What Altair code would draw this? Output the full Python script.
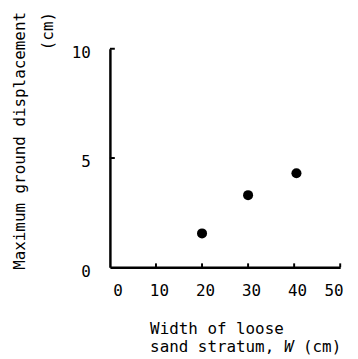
import altair as alt
import pandas as pd

width_cm = [20, 30, 40.5]
displacement_cm = [1.55, 3.3, 4.3]
x_ticks = [0, 10, 20, 30, 40, 50]
y_ticks = [0, 5, 10]
x_title_line1 = "Width of loose"
x_title_line2_pre = "sand stratum,"
x_title_var = "W"
x_title_line2_post = "(cm)"
y_title = ["Maximum ground displacement", "(cm)"]

FONT = "DejaVu Sans Mono"
FS = 16.2
CW = FS * 0.602  # monospace advance
W, H = 235, 223

pts = pd.DataFrame({"w": width_cm, "d": displacement_cm})
xt = pd.DataFrame({"w": [t for t in x_ticks if t > 0]})
yt = pd.DataFrame({"d": [t for t in y_ticks if t > 0]})

xscale = alt.Scale(domain=[0, 50], nice=False, zero=False)
yscale = alt.Scale(domain=[0, 10], nice=False, zero=False)

x_axis = alt.Axis(values=x_ticks, title=None, ticks=False, labelPadding=16,
                  labelOffset=3)
y_axis = alt.Axis(values=y_ticks, title=y_title, ticks=False, labelPadding=20,
                  labelOffset=4, titleAngle=-90, titleAlign="right",
                  titleBaseline="top", titleX=-100, titleY=-38,
                  titleLineHeight=28)

points = alt.Chart(pts).mark_circle(size=105, color="black", opacity=1).encode(
    x=alt.X("w:Q", scale=xscale, axis=x_axis),
    y=alt.Y("d:Q", scale=yscale, axis=y_axis),
)

xtick_rules = alt.Chart(xt).mark_rule(color="black", strokeWidth=2).encode(
    x=alt.X("w:Q", scale=xscale, axis=x_axis),
    y=alt.value(H), y2=alt.value(H - 4),
)
ytick_rules = alt.Chart(yt).mark_rule(color="black", strokeWidth=2).encode(
    y=alt.Y("d:Q", scale=yscale, axis=y_axis),
    x=alt.value(0), x2=alt.value(5),
)

TX = 41
n_pre = len(x_title_line2_pre) + 1  # characters before the variable, incl. space
base = alt.Chart(pd.DataFrame({"a": [0]}))
tstyle = dict(font=FONT, fontSize=FS, color="black", align="left", baseline="alphabetic")
t1 = base.mark_text(**tstyle).encode(x=alt.value(TX), y=alt.value(H + 68), text=alt.value(x_title_line1))
t2a = base.mark_text(**tstyle).encode(x=alt.value(TX), y=alt.value(H + 86), text=alt.value(x_title_line2_pre))
t2b = base.mark_text(fontStyle="italic", **tstyle).encode(
    x=alt.value(TX + CW * n_pre), y=alt.value(H + 86), text=alt.value(x_title_var))
t2c = base.mark_text(**tstyle).encode(
    x=alt.value(TX + CW * (n_pre + 2)), y=alt.value(H + 86), text=alt.value(x_title_line2_post))

chart = alt.layer(points, xtick_rules, ytick_rules, t1, t2a, t2b, t2c).properties(
    width=W, height=H,
    autosize=alt.AutoSizeParams(type="none"),
    padding={"left": 104, "top": 38, "right": 10, "bottom": 90},
).configure_view(stroke=None).configure_axis(
    grid=False, domainColor="black", domainWidth=2.5,
    labelFont=FONT, labelFontSize=FS, labelColor="black",
    titleFont=FONT, titleFontSize=FS, titleColor="black", titleFontWeight="normal",
)

chart.save("out.html", embed_options={"renderer": "svg", "actions": False})
